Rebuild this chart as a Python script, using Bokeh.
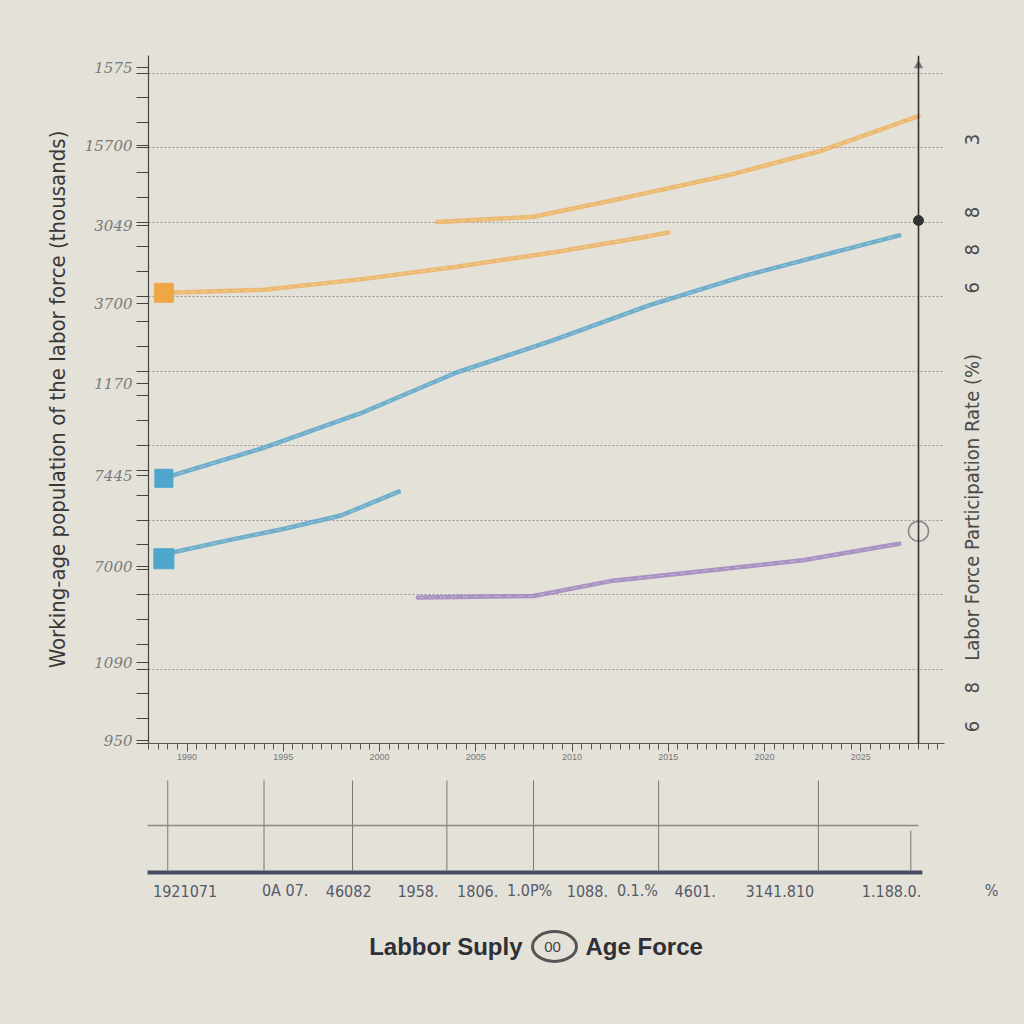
from bokeh.plotting import figure
from bokeh.models import Range1d, FixedTicker, LinearAxis, Span
from bokeh.layouts import column
from bokeh.core.properties import value
from bokeh.embed import file_html
from bokeh.resources import INLINE
import numpy as np

# ---------------- data ----------------
years_orange_a = [1989, 1994, 1999, 2004, 2009, 2014, 2015]
orange_a = [6.05, 6.09, 6.23, 6.40, 6.59, 6.81, 6.86]

years_orange_b = [2003, 2008, 2013, 2018, 2023, 2028]
orange_b = [7.00, 7.07, 7.34, 7.62, 7.96, 8.42]

years_blue_a = [1989, 1994, 1999, 2004, 2009, 2014, 2019, 2024, 2027]
blue_a = [3.58, 3.97, 4.43, 4.98, 5.41, 5.88, 6.28, 6.62, 6.82]

years_blue_b = [1989, 1992, 1995, 1998, 2001]
blue_b = [2.55, 2.72, 2.88, 3.06, 3.38]

years_purple = [2002, 2008, 2012, 2017, 2022, 2027]
purple = [1.96, 1.98, 2.18, 2.32, 2.46, 2.68]

left_tick_values = [0.04, 1.09, 2.38, 3.6, 4.83, 5.9, 6.95, 8.03, 9.07]
left_tick_labels = ["950", "1090", "7000", "7445", "1170", "3700", "3049", "15700", "1575"]

right_title = "Labor Force Participation Rate (%)"
right_tick_values = [8.03, 7.05, 6.55, 6.04, 1.11, 0.67, 0.15]
right_tick_labels = ["3", "8", "8", "6", right_title, "8", "6"]

axis_marks = [7.02, 2.85]

event_years = [1989, 1994, 1998.6, 2003.5, 2008, 2014.5, 2022.8, 2027.6]

period_labels = ["1921071", "0A 07.", "46082", "1958.", "1806.", "1.0P%", "1088.",
                 "0.1.%", "4601.", "3141.810", "1.188.0.", "%"]
period_label_years = [1989.9, 1995.1, 1998.4, 2002.0, 2005.1, 2007.8, 2010.8,
                      2013.4, 2016.4, 2020.8, 2026.6, 2031.8]

# ---------------- style ----------------
BG = "#E4E1D9"
ORANGE = "#EDB25E"
BLUE = "#5AA4C8"
PURPLE = "#9D84BD"
X0, X1 = 1988, 2028
FRAME_L, FRAME_R = 148, 944
PX_PER_YEAR = 770 / (X1 - X0)
X_HI = X0 + (FRAME_R - FRAME_L) / PX_PER_YEAR
COND = "DejaVu Sans Condensed, Liberation Sans Narrow, Liberation Sans, sans-serif"
SANS = "Liberation Sans, Arial, sans-serif"

p = figure(width=1024, height=778, x_range=Range1d(X0, X_HI), y_range=Range1d(0, 9.235),
           output_backend="svg", toolbar_location=None,
           min_border_left=FRAME_L, min_border_right=1024 - FRAME_R,
           min_border_top=55, min_border_bottom=35,
           background_fill_color=BG, border_fill_color=BG, outline_line_color=None)
p.frame_align = False

# grid
p.xgrid.visible = False
p.ygrid.ticker = FixedTicker(ticks=list(range(1, 10)))
p.ygrid.grid_line_color = "#9a9a9a"
p.ygrid.grid_line_dash = "2 2"
p.ygrid.grid_line_width = 1

# left axis
ya = p.yaxis[0]
ya.ticker = FixedTicker(ticks=left_tick_values, minor_ticks=list(np.arange(0, 9.24, 1 / 3)))
ya.major_label_overrides = dict(zip(left_tick_values, left_tick_labels))
ya.major_label_text_font = "DejaVu Serif"
ya.major_label_text_font_style = "italic"
ya.major_label_text_font_size = "15px"
ya.major_label_text_color = "#7a7a7a"
ya.major_tick_out = 12
ya.major_tick_in = 0
ya.minor_tick_out = 12
ya.minor_tick_in = 0
ya.major_tick_line_color = "#444"
ya.minor_tick_line_color = "#444"
ya.axis_line_color = "#444"
ya.axis_line_width = 1.2
ya.major_label_standoff = 4
ya.axis_label = "Working-age population of the labor force (thousands)"
ya.axis_label_text_font = COND
ya.axis_label_text_font_size = "22px"
ya.axis_label_text_font_style = "normal"
ya.axis_label_text_color = "#383838"
ya.axis_label_standoff = 12

# bottom axis
xa = p.xaxis[0]
xa.ticker = FixedTicker(ticks=list(range(1990, 2029, 5)),
                        minor_ticks=list(np.arange(X0, X_HI, 0.5)))
xa.major_label_text_font_size = "9px"
xa.major_label_text_color = "#777"
xa.major_tick_out = 8
xa.major_tick_in = 0
xa.minor_tick_out = 6
xa.minor_tick_in = 0
xa.axis_line_color = "#555"
xa.major_tick_line_color = "#555"
xa.minor_tick_line_color = "#555"
xa.major_label_standoff = 2

# right axis (labels and title, no line)
ra = LinearAxis(ticker=FixedTicker(ticks=right_tick_values, minor_ticks=[]))
ra.major_label_overrides = dict(zip(right_tick_values, right_tick_labels))
ra.major_label_orientation = np.pi / 2
ra.major_label_standoff = 28
ra.major_label_text_font = COND
ra.major_label_text_font_size = "20px"
ra.major_label_text_color = "#4a4a4a"
ra.major_tick_out = 0
ra.major_tick_in = 0
ra.axis_line_color = None
p.add_layout(ra, "right")

# right vertical axis line
p.add_layout(Span(location=X1, dimension="height", line_color="#333", line_width=1.6))
p.scatter([X1], [9.1], marker="triangle", size=8, color="#777")

# series
series = [
    (years_orange_a, orange_a, ORANGE),
    (years_orange_b, orange_b, ORANGE),
    (years_blue_a, blue_a, BLUE),
    (years_blue_b, blue_b, BLUE),
    (years_purple, purple, PURPLE),
]
for xs, ys, c in series:
    p.line(xs, ys, line_color=c, line_width=4.5, line_alpha=0.85, line_cap="round")
    p.line(xs, ys, line_color="white", line_width=1.2, line_alpha=0.25, line_dash="6 5")

# start markers
p.scatter([years_orange_a[0] - 0.2], [orange_a[0]], marker="square", size=19, color="#EFA746")
p.scatter([years_blue_a[0] - 0.2], [blue_a[0] - 0.02], marker="square", size=18, color="#4EA6CC")
p.scatter([years_blue_b[0] - 0.2], [blue_b[0] - 0.07], marker="square", size=20, color="#4EA6CC")

# markers on right axis
p.scatter([X1], [axis_marks[0]], marker="circle", size=10, color="#333")
p.scatter([X1], [axis_marks[1]], marker="circle", size=20, fill_color=None,
          line_color="#888", line_width=1.5)

# ---------------- lower panel ----------------
def px2yr(px):
    return X0 + (px - FRAME_L) / PX_PER_YEAR

low = figure(width=1024, height=246, x_range=Range1d(px2yr(0), px2yr(1024)),
             y_range=Range1d(1024, 778), output_backend="svg", toolbar_location=None,
             x_axis_location=None, y_axis_location=None, min_border=0,
             background_fill_color=BG, border_fill_color=BG, outline_line_color=None)
low.frame_align = False
low.grid.visible = False

tops = [780] * (len(event_years) - 1) + [830]
low.segment(x0=event_years, y0=tops, x1=event_years, y1=[870] * len(event_years),
            line_color="#777", line_width=1)
low.segment(x0=[X0 - 0.05], y0=[825], x1=[X1], y1=[825], line_color="#8a8a8a", line_width=1.3)
low.segment(x0=[X0 - 0.05], y0=[872], x1=[X1 + 0.2], y1=[872], line_color="#474c63", line_width=4)

low.text(x=period_label_years, y=[890] * len(period_labels), text=period_labels,
         text_align="center", text_baseline="middle", text_font=value(COND),
         text_font_size="16px", text_color="#555a68")

# title
low.text(x=[px2yr(522)], y=[946], text=["Labbor Suply"], text_align="right",
         text_baseline="middle", text_font=value(SANS), text_font_style="bold",
         text_font_size="24px", text_color="#2f2f36")
low.ellipse(x=[px2yr(554)], y=[946], width=44, height=30, width_units="screen",
            height_units="screen", fill_color=None, line_color="#555", line_width=3)
low.text(x=[px2yr(552)], y=[946], text=["00"], text_align="center", text_baseline="middle",
         text_font=value(SANS), text_font_size="15px", text_color="#444")
low.text(x=[px2yr(585)], y=[946], text=["Age Force"], text_align="left",
         text_baseline="middle", text_font=value(SANS), text_font_style="bold",
         text_font_size="24px", text_color="#2f2f36")

layout = column(p, low, spacing=0)
html = file_html(layout, INLINE)
html = html.replace("</head>",
                    "<style>html,body{margin:0;padding:0;background:%s}</style></head>" % BG, 1)
open("out.html", "w").write(html)
